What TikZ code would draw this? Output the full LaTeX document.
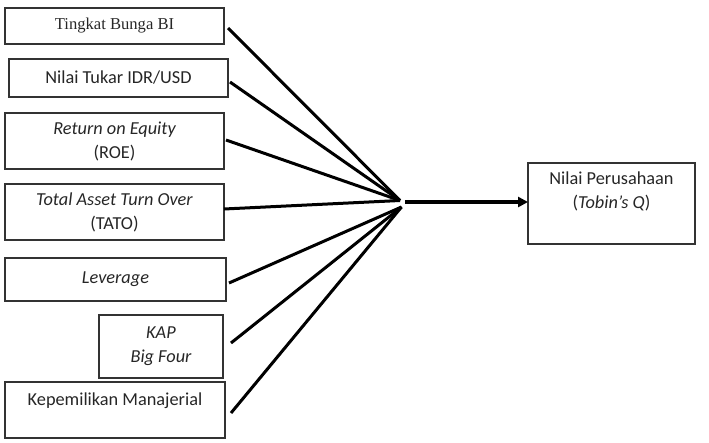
\documentclass[tikz,border=0pt]{standalone}
\usepackage{fontspec}
\setmainfont{Carlito}
\newfontfamily\serifb{Liberation Serif}
\usetikzlibrary{arrows.meta,calc}
\begin{document}
\begin{tikzpicture}[x=1pt,y=-1pt,
  box/.style={draw=black!80, line width=1.1pt, inner sep=0pt, outer sep=0pt, anchor=north west},
  txt/.style={inner sep=0pt, outer sep=0pt, align=center, font=\fontsize{18.3}{24}\selectfont, text=black!85},
  link/.style={line width=3pt, black},
  ]
\useasboundingbox (0,0) rectangle (709,442);
% input boxes
\node[box, txt, minimum width=219pt, minimum height=36pt] (b1) at (5,8)
  {\serifb\fontsize{16.6}{20}\selectfont Tingkat Bunga BI};
\node[box, txt, minimum width=219pt, minimum height=38pt] (b2) at (9,59) {Nilai Tukar IDR/USD};
\node[box, txt, minimum width=219pt, minimum height=56pt] (b3) at (5,113) {\itshape Return on Equity\\(ROE)};
\node[box, txt, minimum width=219pt, minimum height=56pt] (b4) at (5,184) {\itshape Total Asset Turn Over\\(TATO)};
\node[box, txt, minimum width=221pt, minimum height=43pt] (b5) at (5,258) {\itshape Leverage};
\node[box, txt, minimum width=124pt, minimum height=63pt] (b6) at (99,315) {\itshape KAP\\\itshape Big Four};
\node[box, minimum width=220pt, minimum height=56pt] (b7) at (5,382) {};
\node[txt, anchor=center] (t7) at ($(b7.north)+(0,19)$) {Kepemilikan Manajerial};
% target box
\node[box, minimum width=167pt, minimum height=81pt] (tg) at (528,163) {};
\node[txt, anchor=center] (tt) at ($(tg.north)+(0,28)$) {Nilai Perusahaan\\(\textit{Tobin’s Q})};
% connector coordinates
\coordinate (s1) at (228,28);
\coordinate (s2) at (230,82);
\coordinate (s3) at (226,140);
\coordinate (s4) at (224,209);
\coordinate (s5) at (229,283);
\coordinate (s6) at (231,343);
\coordinate (s7) at (231,413);
\coordinate (hubA) at (400,200.5);
\coordinate (hubB) at (401.5,207);
\coordinate (a0) at (405,202);
\draw[link] (s1) -- (hubA);
\draw[link] (s2) -- (hubA);
\draw[link] (s3) -- (hubA);
\draw[link] (s4) -- (hubA);
\draw[link] (s5) -- (hubB);
\draw[link] (s6) -- (hubB);
\draw[link] (s7) -- (hubB);
\draw[link, line width=3.5pt, -{Triangle[length=10pt,width=10pt]}] (a0) -- (a0 -| tg.west);
\end{tikzpicture}
\end{document}
